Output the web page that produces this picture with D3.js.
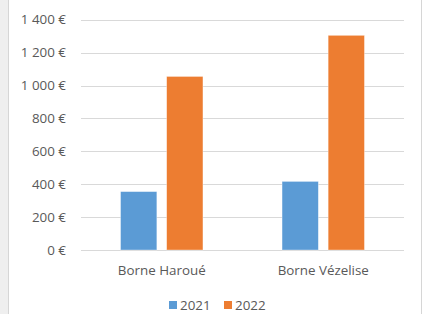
<!DOCTYPE html>
<html><head><meta charset="utf-8">
<script src="https://cdn.jsdelivr.net/npm/d3@7"></script>
<style>
html,body{margin:0;padding:0;background:#fff;}
svg{display:block;font-family:"Open Sans","Noto Sans",sans-serif;}
</style></head><body>
<script>
const categories = ["Borne Haroué", "Borne Vézelise"];
const seriesNames = ["2021", "2022"];
const values2021 = [355, 417];
const values2022 = [1055, 1305];
const yTicks = [0, 200, 400, 600, 800, 1000, 1200, 1400];
const colors = ["#5B9BD5", "#ED7D31"];

const W = 423, H = 314;
const svg = d3.select("body").append("svg").attr("width", W).attr("height", H);

// fit font size so that the category label matches the reference width
const probe = svg.append("text").attr("font-size", 10).text(categories[0]);
const fs = 10 * 88 / probe.node().getComputedTextLength();
probe.remove();

// window frame
svg.append("rect").attr("x",0).attr("y",0).attr("width",8).attr("height",H).attr("fill","#efefef");
svg.append("line").attr("x1",8.5).attr("x2",8.5).attr("y1",0).attr("y2",H).attr("stroke","#d6d6d6");
svg.append("line").attr("x1",421.5).attr("x2",421.5).attr("y1",0).attr("y2",H).attr("stroke","#d6d6d6");

const x0 = d3.scaleBand().domain(categories).range([81, 404]).paddingInner(0).paddingOuter(0);
const y = d3.scaleLinear().domain([0, 1400]).range([250, 19.7]);

const fmt = v => d3.format(",")(v).replace(/,/g, "\u00A0") + "\u00A0€";

// gridlines
svg.append("g").selectAll("line").data(yTicks).join("line")
  .attr("x1", 81).attr("x2", 404)
  .attr("y1", d => Math.round(y(d)) + 0.5).attr("y2", d => Math.round(y(d)) + 0.5)
  .attr("stroke", "#d9d9d9").attr("stroke-width", 1);

// y labels
svg.append("g").selectAll("text").data(yTicks).join("text")
  .attr("x", 66).attr("y", d => y(d)).attr("dy", "0.35em")
  .attr("text-anchor", "end").attr("fill", "#595959").attr("font-size", fs)
  .text(fmt);

// bars
const barW = 36.3, gap = 9.8;
const data = [];
categories.forEach((c, i) => {
  data.push({c, s: 0, v: values2021[i]});
  data.push({c, s: 1, v: values2022[i]});
});
svg.append("g").selectAll("rect").data(data).join("rect")
  .attr("x", d => x0(d.c) + x0.bandwidth()/2 + (d.s === 0 ? -(gap/2 + barW) : gap/2))
  .attr("y", d => y(d.v))
  .attr("width", barW)
  .attr("height", d => y(0) - y(d.v))
  .attr("fill", d => colors[d.s])
  .attr("stroke", "#fff").attr("stroke-opacity", 0.5).attr("stroke-width", 0.7);

// category labels
svg.append("g").selectAll("text").data(categories).join("text")
  .attr("x", d => x0(d) + x0.bandwidth()/2).attr("y", 270).attr("dy", "0.35em")
  .attr("text-anchor", "middle").attr("fill", "#595959").attr("font-size", fs)
  .text(d => d);

// legend
const leg = svg.append("g");
const legX = [169, 224];
seriesNames.forEach((s, i) => {
  leg.append("rect").attr("x", legX[i]).attr("y", 301).attr("width", 8).attr("height", 8).attr("fill", colors[i]);
  leg.append("text").attr("x", legX[i] + 11).attr("y", 305).attr("dy", "0.35em")
    .attr("fill", "#595959").attr("font-size", fs).text(s);
});
</script>
</body></html>
